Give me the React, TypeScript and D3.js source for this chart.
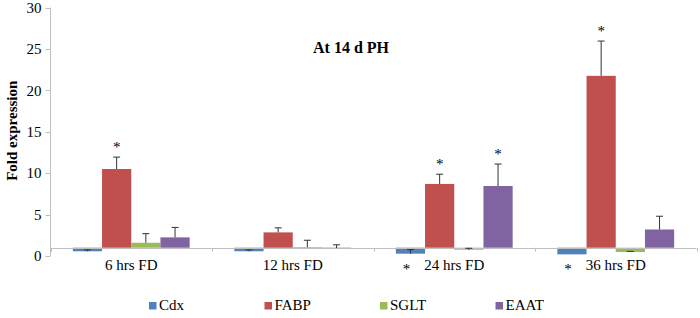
import React from "react";
import * as d3 from "d3";

const categories = ["6 hrs FD", "12 hrs FD", "24 hrs FD", "36 hrs FD"];
const seriesNames = ["Cdx", "FABP", "SGLT", "EAAT"];
const colors = ["#4F81BD", "#C0504D", "#9BBB59", "#8064A2"];
const cdx = [0.57, 0.57, 0.28, 0.2];
const fabp = [10.5, 2.85, 8.7, 21.75];
const sglt = [1.6, 1.05, 0.76, 0.48];
const eaat = [2.25, 0.95, 8.45, 3.2];
const cdxErr = [0.16, 0.16, 0.5, 0];
const fabpErr = [1.44, 0.55, 1.17, 4.2];
const sgltErr = [1.1, 0.85, 0.17, 0.08];
const eaatErr = [1.2, 0.4, 2.65, 1.6];
const cdxSig = [false, false, true, true];
const fabpSig = [true, false, true, true];
const sgltSig = [false, false, false, false];
const eaatSig = [false, false, true, false];
const yTicks = [0, 5, 10, 15, 20, 25, 30];
const baseline = 1;

const values = [cdx, fabp, sglt, eaat];
const errs = [cdxErr, fabpErr, sgltErr, eaatErr];
const sigs = [cdxSig, fabpSig, sgltSig, eaatSig];

const T: React.CSSProperties = { fontFamily: '"Liberation Serif"' };

export default function App() {
  const W = 700, H = 318;
  const left = 50.5, right = 696.5;
  const y = d3.scaleLinear().domain([0, 30]).range([256, 7.5]);
  const x0 = d3.scaleBand<string>().domain(categories).range([left, right]).paddingInner(0).paddingOuter(0);
  const x1 = d3.scaleBand<string>().domain(seriesNames).range([0, x0.bandwidth()]).paddingInner(0).paddingOuter(0.765);
  const axisColor = "#bfbfbf";
  const bw = x1.bandwidth();
  const y1 = y(baseline);

  return (
    <svg width={W} height={H} style={{ position: "absolute", left: 0, top: 0, background: "#fff" }}>
      {/* y axis */}
      <line x1={left} x2={left} y1={y(30)} y2={y(0)} stroke={axisColor} />
      {yTicks.map((t) => (
        <g key={t}>
          <line x1={left - 5} x2={left} y1={Math.round(y(t)) + 0.5} y2={Math.round(y(t)) + 0.5} stroke={axisColor} />
          <text x={left - 9} y={y(t)} dy="0.35em" textAnchor="end" fontSize={15} fill="#000" style={T}>{t}</text>
        </g>
      ))}
      <text transform={`translate(17,${y(15) - 1}) rotate(-90)`} textAnchor="middle" fontSize={15} fontWeight="bold" fill="#000" style={T}>Fold expression</text>
      <text x={351} y={52.5} textAnchor="middle" fontSize={16} fontWeight="bold" fill="#000" style={T}>At 14 d PH</text>

      {/* bars */}
      {categories.map((c, ci) => (
        <g key={c}>
          {seriesNames.map((s, si) => {
            const v = values[si][ci];
            const bx = (x0(c) as number) + (x1(s) as number);
            const top = Math.min(y(v), y1);
            const h = Math.abs(y(v) - y1);
            return <rect key={s} x={bx} y={top} width={bw} height={Math.max(h, 1)} fill={colors[si]} />;
          })}
        </g>
      ))}
      {/* x axis at baseline */}
      <line x1={left} x2={right} y1={Math.round(y1) + 0.5} y2={Math.round(y1) + 0.5} stroke={axisColor} />
      {d3.range(categories.length + 1).map((i) => {
        const xx = Math.round(left + i * x0.step()) + 0.5;
        return <line key={i} x1={xx} x2={xx} y1={y1} y2={y1 + 4} stroke={axisColor} />;
      })}
      {/* error bars */}
      {categories.map((c, ci) => (
        <g key={c + "e"}>
          {seriesNames.map((s, si) => {
            const v = values[si][ci];
            const e = errs[si][ci];
            if (e <= 0) return null;
            const cx = (x0(c) as number) + (x1(s) as number) + bw / 2;
            return (
              <g key={s}>
                <line x1={cx} x2={cx} y1={y(v)} y2={y(v + e)} stroke="#333" strokeWidth={1} />
                <line x1={cx - 3.5} x2={cx + 3.5} y1={y(v + e)} y2={y(v + e)} stroke="#333" strokeWidth={1} />
              </g>
            );
          })}
        </g>
      ))}
      {/* significance stars */}
      {categories.map((c, ci) => (
        <g key={c + "s"}>
          {seriesNames.map((s, si) => {
            if (!sigs[si][ci]) return null;
            const v = values[si][ci];
            const e = errs[si][ci];
            const cx = (x0(c) as number) + (x1(s) as number) + bw / 2;
            if (v < baseline) {
              return <text key={s} x={cx - 4} y={274} textAnchor="middle" fontSize={15} fill="#000" style={T}>*</text>;
            }
            return <text key={s} x={cx} y={y(v + e) - 5} textAnchor="middle" fontSize={15} fill="#000" style={T}>*</text>;
          })}
        </g>
      ))}
      {/* category labels */}
      {categories.map((c) => (
        <text key={c + "l"} x={(x0(c) as number) + x0.bandwidth() / 2} y={269.5} textAnchor="middle" fontSize={15} fill="#000" style={T}>{c}</text>
      ))}
      {/* legend */}
      {seriesNames.map((s, si) => {
        const lx = 149 + si * 115.5;
        return (
          <g key={s + "lg"}>
            <rect x={lx} y={302} width={7.5} height={7.5} fill={colors[si]} />
            <text x={lx + 10} y={310} fontSize={15} fill="#000" style={T}>{s}</text>
          </g>
        );
      })}
    </svg>
  );
}
